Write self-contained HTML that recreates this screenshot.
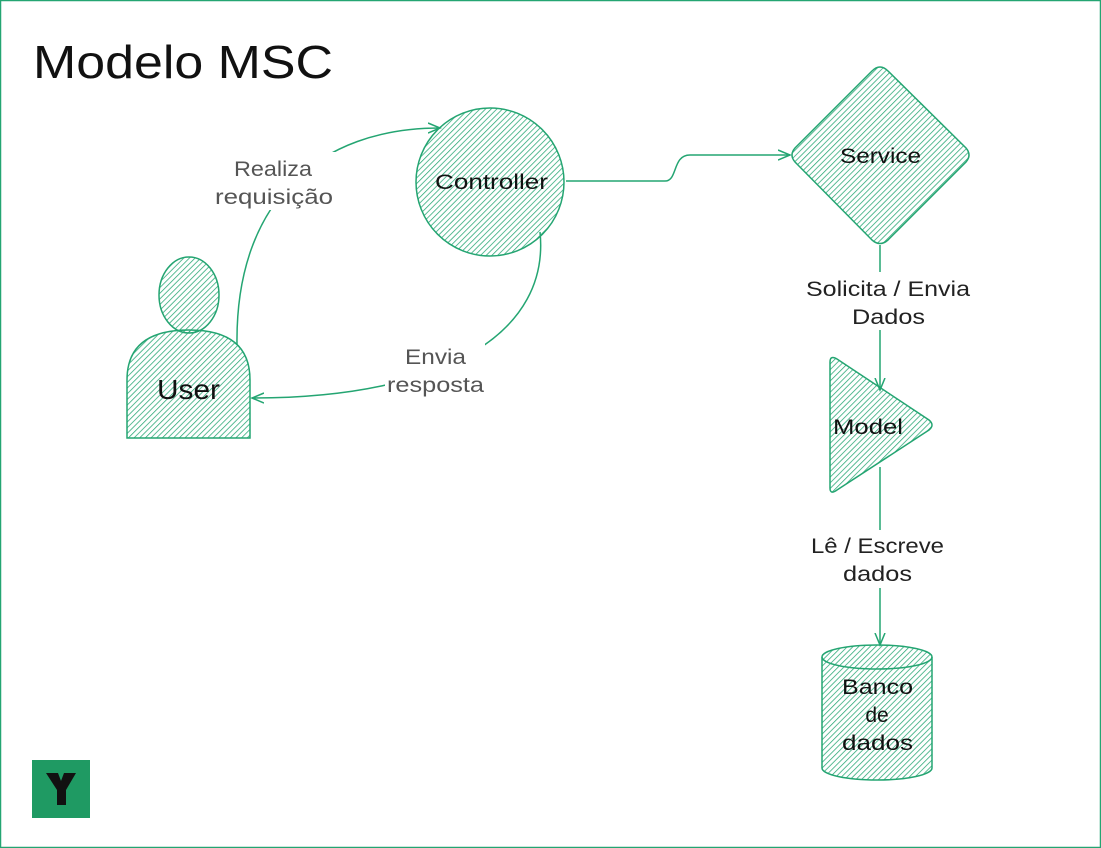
<!DOCTYPE html>
<html><head><meta charset="utf-8"><style>
html,body{margin:0;padding:0;background:#fff;}
svg{display:block;}
text{font-family:"Liberation Sans",sans-serif;}
</style></head><body>
<svg width="1101" height="848" viewBox="0 0 1101 848" xmlns="http://www.w3.org/2000/svg">
<defs>
<pattern id="h" width="4" height="4" patternUnits="userSpaceOnUse" patternTransform="rotate(45)">
<line x1="0" y1="0" x2="0" y2="4" stroke="#24a572" stroke-width="1.5"/>
</pattern>
<marker id="a" markerWidth="14" markerHeight="12" refX="12" refY="6" orient="auto" markerUnits="userSpaceOnUse">
<path d="M0,1 L12,6 L0,11" fill="none" stroke="#24a572" stroke-width="1.5"/>
</marker>
</defs>
<rect x="0.5" y="0.5" width="1100" height="847" fill="#fff" stroke="#24a572" stroke-width="1.5"/>
<text x="33" y="78" font-size="46" fill="#111" textLength="300" lengthAdjust="spacingAndGlyphs">Modelo MSC</text>

<path d="M237,345 C235,200 320,128 440,128" fill="none" stroke="#24a572" stroke-width="1.5" marker-end="url(#a)"/>
<path d="M540,232 C550,330 450,398 252,398" fill="none" stroke="#24a572" stroke-width="1.5" marker-end="url(#a)"/>
<path d="M566,181 L665,181 C678,181 672,155 690,155 L790,155" fill="none" stroke="#24a572" stroke-width="1.5" marker-end="url(#a)"/>
<path d="M880,245 L880,390" fill="none" stroke="#24a572" stroke-width="1.5" marker-end="url(#a)"/>
<path d="M880,467 L880,645" fill="none" stroke="#24a572" stroke-width="1.5" marker-end="url(#a)"/>

<rect x="210" y="152" width="128" height="58" fill="#fff"/>
<text x="215" y="176" font-size="21" fill="#555" dx="19" textLength="78" lengthAdjust="spacingAndGlyphs">Realiza</text>
<text x="215" y="204" font-size="21" fill="#555" textLength="118" lengthAdjust="spacingAndGlyphs">requisição</text>
<rect x="385" y="342" width="100" height="58" fill="#fff"/>
<text x="405" y="364" font-size="21" fill="#555" textLength="61" lengthAdjust="spacingAndGlyphs">Envia</text>
<text x="387" y="392" font-size="21" fill="#555" textLength="97" lengthAdjust="spacingAndGlyphs">resposta</text>
<rect x="800" y="272" width="175" height="58" fill="#fff"/>
<text x="806" y="296" font-size="21" fill="#222" textLength="164" lengthAdjust="spacingAndGlyphs">Solicita / Envia</text>
<text x="852" y="324" font-size="21" fill="#222" textLength="73" lengthAdjust="spacingAndGlyphs">Dados</text>
<rect x="805" y="530" width="150" height="58" fill="#fff"/>
<text x="811" y="553" font-size="21" fill="#222" textLength="133" lengthAdjust="spacingAndGlyphs">Lê / Escreve</text>
<text x="843" y="581" font-size="21" fill="#222" textLength="69" lengthAdjust="spacingAndGlyphs">dados</text>

<circle cx="490" cy="182" r="74" fill="url(#h)" stroke="#24a572" stroke-width="1.5"/>
<text x="435" y="189" font-size="21" fill="#111" textLength="113" lengthAdjust="spacingAndGlyphs">Controller</text>

<path d="M880,67 Q884,67 888,71 L966,148 Q972,155 966,162 L888,240 Q880,247 872,240 L795,162 Q789,155 795,148 L872,71 Q876,67 880,67Z" fill="url(#h)" stroke="#24a572" stroke-width="1.5"/>
<text x="840" y="163" font-size="21" fill="#111" textLength="81" lengthAdjust="spacingAndGlyphs">Service</text>

<path d="M830,362 Q830,355 837,359 L929,420 Q935,425 929,430 L837,490 Q830,495 830,488Z" fill="url(#h)" stroke="#24a572" stroke-width="1.5"/>
<text x="833" y="434" font-size="21" fill="#111" textLength="70" lengthAdjust="spacingAndGlyphs">Model</text>

<path d="M822,657 A55,12 0 0 1 932,657 L932,768 A55,12 0 0 1 822,768Z" fill="url(#h)" stroke="#24a572" stroke-width="1.5"/>
<path d="M822,657 A55,12 0 0 0 932,657" fill="none" stroke="#24a572" stroke-width="1.5"/>
<text x="842" y="694" font-size="21" fill="#111" textLength="71" lengthAdjust="spacingAndGlyphs">Banco</text>
<text x="877" y="722" font-size="21" fill="#111" text-anchor="middle">de</text>
<text x="842" y="750" font-size="21" fill="#111" textLength="71" lengthAdjust="spacingAndGlyphs">dados</text>

<ellipse cx="189" cy="295" rx="30" ry="38" fill="url(#h)" stroke="#24a572" stroke-width="1.5"/>
<path d="M127,438 L127,380 Q127,330 189,330 Q250,330 250,380 L250,438Z" fill="url(#h)" stroke="#24a572" stroke-width="1.5"/>
<text x="157" y="399" font-size="28" fill="#111" textLength="63" lengthAdjust="spacingAndGlyphs">User</text>

<rect x="32" y="760" width="58" height="58" fill="#1f9a63"/>
<path d="M46,773 L58,773 L61,781 L64,773 L76,773 L66,790 L66,805 L57,805 L57,790Z" fill="#111"/>
</svg>
</body></html>
